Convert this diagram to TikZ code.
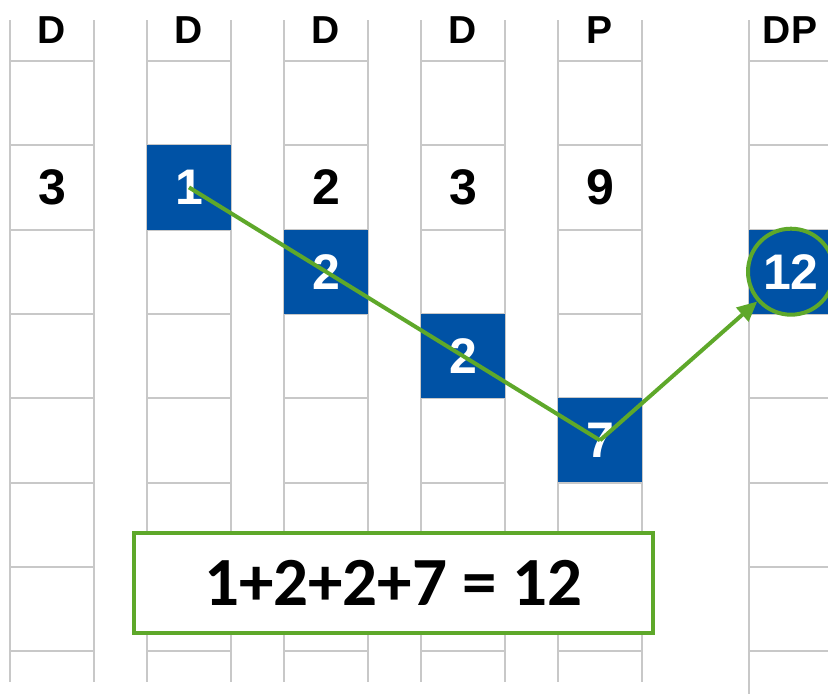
\documentclass[tikz,border=0pt]{standalone}
\usepackage{fontspec}
\setmainfont{Liberation Sans}
\newfontfamily\sumfont{Carlito}
\usetikzlibrary{arrows.meta}
\definecolor{cellblue}{RGB}{0,82,165}
\definecolor{pathgreen}{RGB}{94,168,42}
\definecolor{gridgray}{RGB}{200,200,200}

\begin{document}
\begin{tikzpicture}[x=1pt, y=-1pt,
        grid/.style={draw=gridgray, line width=2pt},
        head/.style={font=\fontsize{39}{39}\selectfont\bfseries, inner sep=0pt},
        num/.style={font=\fontsize{50}{50}\selectfont\bfseries, inner sep=0pt},
        picked/.style={rectangle, fill=cellblue, text=white, inner sep=0pt,
            minimum width=84pt, minimum height=84.3pt,
            font=\fontsize{50}{50}\selectfont\bfseries},
        route/.style={draw=pathgreen, line width=4pt, line join=round}]
        \useasboundingbox (0,0) rectangle (828,694);
        % grid columns
        \foreach \x in {10,147,284,421,558} {
            \draw[grid] (\x,20) -- (\x,682);
            \draw[grid] (\x+84,20) -- (\x+84,682);
            \foreach \k in {0,...,7}
                \draw[grid] (\x,61+84.3*\k) -- (\x+84,61+84.3*\k);
        }
        \draw[grid] (749,20) -- (749,694);
        \foreach \k in {0,...,7}
            \draw[grid] (749,61+84.3*\k) -- (828,61+84.3*\k);
        % headers
        \node[head] (h1) at (52,30) {D};
        \node[head] (h2) at (189,30) {D};
        \node[head] (h3) at (326,30) {D};
        \node[head] (h4) at (463,30) {D};
        \node[head] (h5) at (600,30) {P};
        \node[head] (h6) at (790,30) {DP};
        % plain values
        \node[num] (n1) at (52,187.4) {3};
        \node[num] (n3) at (326,187.4) {2};
        \node[num] (n4) at (463,187.4) {3};
        \node[num] (n5) at (600,187.4) {9};
        % chosen cells
        \node[picked] (b1) at (189,187.4) {1};
        \node[picked] (b2) at (326,271.7) {2};
        \node[picked] (b3) at (463,356) {2};
        \node[picked] (b4) at (600,440.3) {7};
        \node[picked] (dp) at (791,271.7) {12};
        \node[circle, draw=pathgreen, line width=4pt, minimum size=86pt] (ring) at (dp.center) {};
        % path through the cells
        \draw[route] (b1.center) -- (b2.center) -- (b3.center) -- (b4.center);
        \draw[route, -{Triangle[length=20pt, width=18pt]}] (b4.center) -- (ring);
        % total
        \node[draw=pathgreen, line width=3.5pt, fill=white,
            minimum width=519pt, minimum height=100pt,
            font=\sumfont\fontsize{69}{69}\selectfont\bfseries] (total) at (393.5,583) {1+2+2+7 = 12};
    \end{tikzpicture}
\end{document}
